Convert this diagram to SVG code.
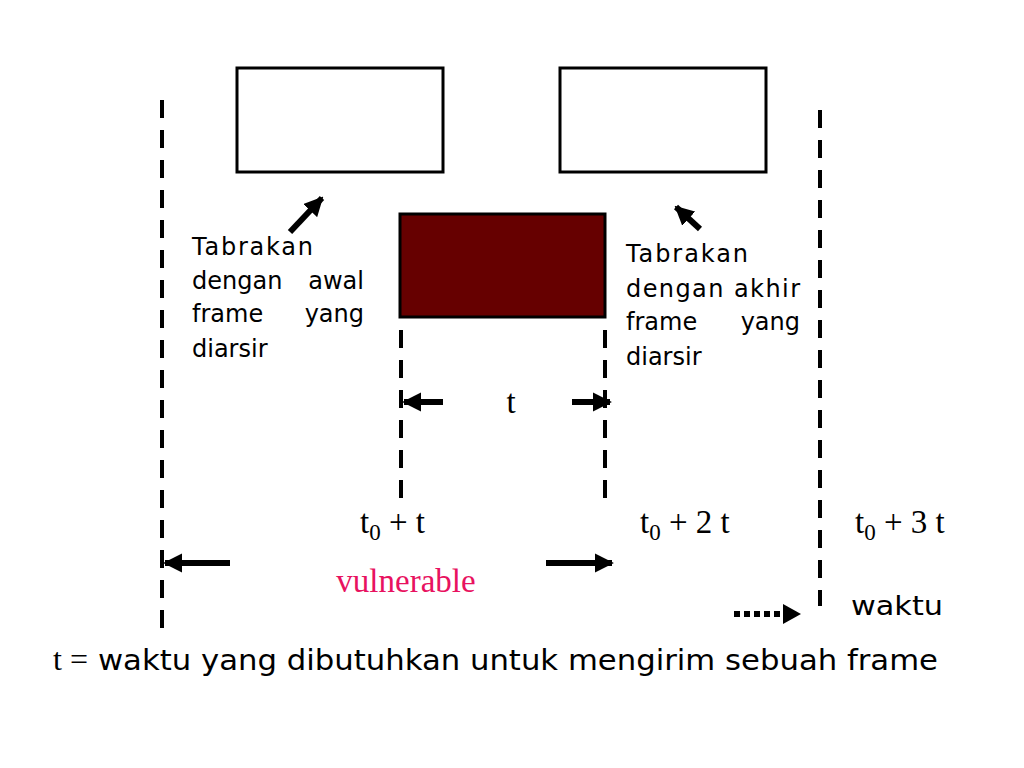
<svg xmlns="http://www.w3.org/2000/svg" width="1024" height="768" viewBox="0 0 1024 768">
<style>
.frame{fill:#fff;stroke:#000;stroke-width:3}
.dash{stroke:#000;stroke-width:4;stroke-dasharray:18 12;fill:none}
.arr{stroke:#000;stroke-width:6;fill:none}
.sans{font-family:"DejaVu Sans","Noto Sans",sans-serif;font-size:24px;fill:#000}
.serif{font-family:"Liberation Serif","Times New Roman",serif;font-size:33px;fill:#000}
</style>
<defs>
<marker id="ah" viewBox="0 0 10 10" refX="9" refY="5" markerWidth="3.2" markerHeight="3.2" orient="auto" markerUnits="strokeWidth">
<path d="M0,0 L10,5 L0,10 z" fill="#000"/>
</marker>
</defs>
<rect width="1024" height="768" fill="#fff"/>
<g id="frame1"><rect class="frame" x="237" y="68" width="206" height="104"/></g>
<g id="frame2"><rect class="frame" x="560" y="68" width="206" height="104"/></g>
<g id="frame-shaded"><rect x="400" y="214" width="205" height="103" fill="#660000" stroke="#000" stroke-width="3"/></g>
<g id="connectors">
<line class="dash" x1="162" y1="100" x2="162" y2="630"/>
<line class="dash" x1="820" y1="110" x2="820" y2="606"/>
<line class="dash" x1="401" y1="330" x2="401" y2="505"/>
<line class="dash" x1="605" y1="330" x2="605" y2="505"/>
<line class="arr" x1="443" y1="402" x2="404" y2="402" marker-end="url(#ah)"/>
<line class="arr" x1="572" y1="402" x2="610" y2="402" marker-end="url(#ah)"/>
<line class="arr" x1="230" y1="563" x2="165" y2="563" marker-end="url(#ah)"/>
<line class="arr" x1="546" y1="563" x2="612" y2="563" marker-end="url(#ah)"/>
<line x1="290" y1="232" x2="322" y2="198" stroke="#000" stroke-width="6" marker-end="url(#ah)"/>
<line x1="700" y1="229" x2="676" y2="207" stroke="#000" stroke-width="6" marker-end="url(#ah)"/>
<line x1="734" y1="614" x2="785" y2="614" stroke="#000" stroke-width="6" stroke-dasharray="6 4"/>
<path d="M783,604 L801,614 L783,624 z" fill="#000"/>
</g>
<g id="label-awal" class="sans">
<text x="192" y="255" textLength="121" lengthAdjust="spacing">Tabrakan</text>
<text x="192" y="289">dengan</text>
<text x="364" y="289" text-anchor="end">awal</text>
<text x="192" y="322">frame</text>
<text x="364" y="322" text-anchor="end">yang</text>
<text x="192" y="357">diarsir</text>
</g>
<g id="label-akhir" class="sans">
<text x="626" y="262" textLength="122" lengthAdjust="spacing">Tabrakan</text>
<text x="626" y="297" textLength="174" lengthAdjust="spacing">dengan akhir</text>
<text x="626" y="330">frame</text>
<text x="800" y="330" text-anchor="end">yang</text>
<text x="626" y="365">diarsir</text>
</g>
<g id="labels-time" class="serif">
<text x="511" y="413" text-anchor="middle">t</text>
<text x="360" y="533">t<tspan style="font-size:23px" dy="7">0</tspan><tspan dy="-7"> + t</tspan></text>
<text x="640" y="533">t<tspan style="font-size:23px" dy="7">0</tspan><tspan dy="-7"> + 2 t</tspan></text>
<text x="855" y="533">t<tspan style="font-size:23px" dy="7">0</tspan><tspan dy="-7"> + 3 t</tspan></text>
<text x="406" y="592" text-anchor="middle" style="font-size:33px;fill:#e8125f">vulnerable</text>
</g>
<g id="label-waktu"><text class="sans" x="851" y="615" style="font-size:27px" textLength="92" lengthAdjust="spacingAndGlyphs">waktu</text></g>
<g id="legend">
<text class="serif" x="53" y="670" style="font-size:32px">t =</text>
<text class="sans" x="98" y="670" style="font-size:29px" textLength="840" lengthAdjust="spacingAndGlyphs">waktu yang dibutuhkan untuk mengirim sebuah frame</text>
</g>
</svg>
